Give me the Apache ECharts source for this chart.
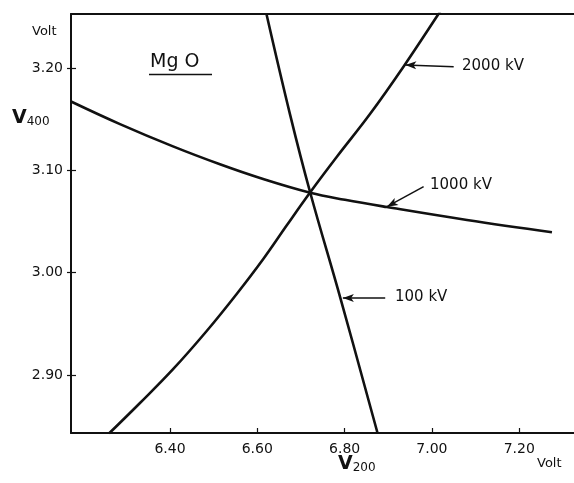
<!DOCTYPE html>
<html>
<head>
<meta charset="utf-8">
<script src="https://cdn.jsdelivr.net/npm/echarts@6/dist/echarts.min.js"></script>
<style>
html,body{margin:0;padding:0;background:#fff;}
#chart{width:574px;height:483px;}
</style>
</head>
<body>
<div id="chart"></div>
<script>
// ---- data (V200 in volt on x, V400 in volt on y) ----
const xTicks = [6.40, 6.60, 6.80, 7.00, 7.20];
const yTicks = [2.90, 3.00, 3.10, 3.20];

const kv1000_x = [6.1733, 6.2855, 6.4069, 6.5145, 6.6062, 6.7213, 6.8008, 6.8970, 7.0802, 7.2749];
const kv1000_y = [3.1673, 3.1452, 3.1234, 3.1059, 3.0925, 3.0781, 3.0712, 3.0641, 3.0515, 3.0395];

const kv2000_x = [6.2603, 6.3313, 6.4076, 6.4841, 6.5528, 6.6137, 6.6680, 6.7213, 6.7818, 6.8581, 6.9348, 7.0150, 7.0230];
const kv2000_y = [2.8428, 2.8726, 2.9059, 2.9430, 2.9792, 3.0134, 3.0466, 3.0786, 3.1130, 3.1550, 3.2013, 3.2528, 3.2581];

const kv100_x = [6.6210, 6.6748, 6.7213, 6.7905, 6.8757];
const kv100_y = [3.2528, 3.1550, 3.0781, 2.9749, 2.8428];

// annotation arrows: [fromX, fromY, toX, toY]
const arrow2000 = [7.0498, 3.2013, 6.9390, 3.2030];
const arrow1000 = [6.9810, 3.0840, 6.8970, 3.0645];
const arrow100  = [6.8930, 2.9752, 6.7960, 2.9752];

const xMin = 6.1733, xMax = 7.3254;
const yMin = 2.8433, yMax = 3.2528;

const zip = (xs, ys) => xs.map((x, i) => [x, ys[i]]);
const FONT = 'DejaVu Sans';
const INK = '#111';

function arrowLine(a) {
  return {
    symbol: ['none', 'arrow'],
    symbolSize: [6, 11],
    silent: true,
    label: { show: false },
    lineStyle: { color: INK, width: 1.5, type: 'solid' },
    data: [[{ coord: [a[0], a[1]] }, { coord: [a[2], a[3]] }]]
  };
}

function curve(name, xs, ys, arrow) {
  return {
    name: name,
    type: 'line',
    data: zip(xs, ys),
    smooth: 0.4,
    showSymbol: false,
    clip: true,
    lineStyle: { color: INK, width: 2.6 },
    itemStyle: { color: INK },
    markLine: arrowLine(arrow),
    animation: false
  };
}

const chart = echarts.init(document.getElementById('chart'), null, { renderer: 'canvas' });

const option = {
  animation: false,
  backgroundColor: '#fff',
  grid: { left: 71, right: 0, top: 14, bottom: 50, containLabel: false },
  xAxis: [
    {
      type: 'value', min: xMin, max: xMax, position: 'bottom',
      axisLine: { show: true, onZero: false, lineStyle: { color: INK, width: 2 } },
      axisTick: { show: true, inside: true, length: 5, customValues: xTicks, lineStyle: { color: INK, width: 1.2 } },
      axisLabel: { show: true, customValues: xTicks, margin: 9, color: INK, fontFamily: FONT, fontSize: 14,
                   formatter: v => v.toFixed(2) },
      splitLine: { show: false }
    },
    {
      type: 'value', min: xMin, max: xMax, position: 'top',
      axisLine: { show: true, onZero: false, lineStyle: { color: INK, width: 2 } },
      axisTick: { show: false }, axisLabel: { show: false }, splitLine: { show: false }
    }
  ],
  yAxis: [
    {
      type: 'value', min: yMin, max: yMax, position: 'left',
      axisLine: { show: true, onZero: false, lineStyle: { color: INK, width: 2 } },
      axisTick: { show: true, inside: false, length: 4, customValues: yTicks, lineStyle: { color: INK, width: 1.2 } },
      axisLabel: { show: true, customValues: yTicks, margin: 8, color: INK, fontFamily: FONT, fontSize: 14,
                   formatter: v => v.toFixed(2) },
      splitLine: { show: false }
    },
    {
      type: 'value', min: yMin, max: yMax, position: 'left',
      axisLine: { show: false, onZero: false },
      axisTick: { show: true, inside: true, length: 5, customValues: yTicks, lineStyle: { color: INK, width: 1.2 } },
      axisLabel: { show: false }, splitLine: { show: false }
    }
  ],
  series: [
    curve('1000 kV', kv1000_x, kv1000_y, arrow1000),
    curve('2000 kV', kv2000_x, kv2000_y, arrow2000),
    curve('100 kV', kv100_x, kv100_y, arrow100)
  ],
  graphic: [
    { type: 'text', x: 150, y: 62, style: { text: 'Mg O', font: '19px "' + FONT + '"', fill: INK, verticalAlign: 'middle' } },
    { type: 'line', shape: { x1: 149, y1: 74.5, x2: 212, y2: 74.5 }, style: { stroke: INK, lineWidth: 1.5 } },
    { type: 'text', x: 462, y: 66, style: { text: '2000 kV', font: '15px "' + FONT + '"', fill: INK, verticalAlign: 'middle' } },
    { type: 'text', x: 430, y: 185, style: { text: '1000 kV', font: '15px "' + FONT + '"', fill: INK, verticalAlign: 'middle' } },
    { type: 'text', x: 395, y: 297, style: { text: '100 kV', font: '15px "' + FONT + '"', fill: INK, verticalAlign: 'middle' } },
    { type: 'text', x: 32, y: 32, style: { text: 'Volt', font: '13px "' + FONT + '"', fill: INK, verticalAlign: 'middle' } },
    { type: 'text', x: 537, y: 464, style: { text: 'Volt', font: '13px "' + FONT + '"', fill: INK, verticalAlign: 'middle' } },
    { type: 'text', x: 12, y: 118, style: {
        text: '{v|V}{s|400}', verticalAlign: 'middle',
        rich: { v: { font: 'bold 19px "' + FONT + '"', fill: INK, verticalAlign: 'bottom' },
                s: { font: '12px "' + FONT + '"', fill: INK, verticalAlign: 'bottom' } } } },
    { type: 'text', x: 338, y: 464, style: {
        text: '{v|V}{s|200}', verticalAlign: 'middle',
        rich: { v: { font: 'bold 19px "' + FONT + '"', fill: INK, verticalAlign: 'bottom' },
                s: { font: '12px "' + FONT + '"', fill: INK, verticalAlign: 'bottom' } } } }
  ]
};
chart.setOption(option);
</script>
</body>
</html>
